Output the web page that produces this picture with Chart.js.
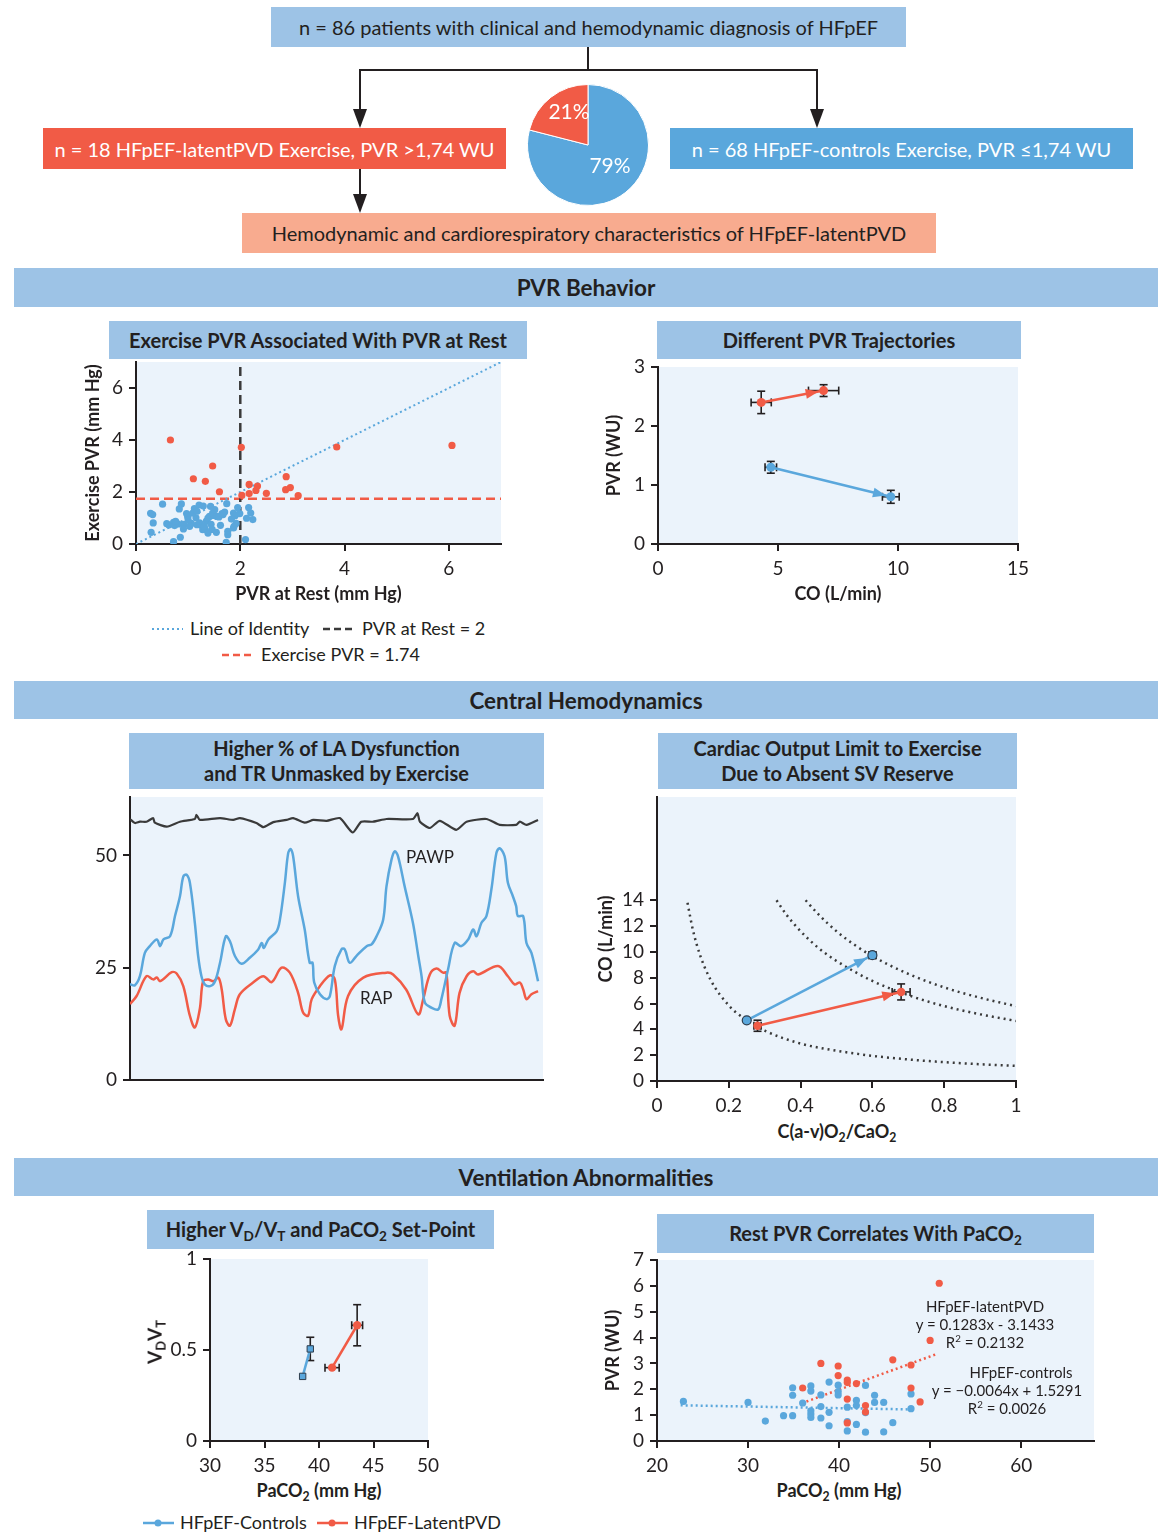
<!DOCTYPE html>
<html lang="en">
<head>
<meta charset="UTF-8">
<title>HFpEF-latentPVD overview</title>
<style>
  body { margin: 0; background: #fff; font-family: Lato, "Open Sans", sans-serif; color: #231f20; }
  #page { position: relative; width: 1158px; height: 1532px; overflow: hidden; }
  .box { position: absolute; display: flex; align-items: center; justify-content: center; text-align: center; box-sizing: border-box; }
  .top { font-size: 20px; }
  .band { background: #9dc3e6; font-size: 22.5px; font-weight: bold; left: 14px; width: 1144px; }
  .sub { background: #9dc3e6; font-size: 20px; font-weight: bold; line-height: 1.25; }
  .cv { position: absolute; }
  .t { position: absolute; white-space: nowrap; line-height: 1.2; transform: translate(0, -50%); }
  .tc { position: absolute; white-space: nowrap; line-height: 1.2; transform: translate(-50%, -50%); }
  .tr { position: absolute; white-space: nowrap; line-height: 1.2; transform: translate(-50%, -50%) rotate(-90deg); }
  .ax { font-size: 18px; font-weight: bold; }
  sub { font-size: 0.68em; vertical-align: baseline; position: relative; top: 0.3em; line-height: 0; }
  svg { position: absolute; left: 0; top: 0; }
</style>
</head>
<body>
<div id="page">

  <!-- flow boxes -->
  <div class="box top" style="left:271px;top:7px;width:635px;height:40px;background:#9dc3e6;"><span>n = 86 patients with clinical and hemodynamic diagnosis of HFpEF</span></div>
  <div class="box top" style="left:43px;top:128px;width:463px;height:41px;background:#f15b46;color:#fff;"><span>n = 18 HFpEF-latentPVD Exercise, PVR &gt;1,74 WU</span></div>
  <div class="box top" style="left:670px;top:128px;width:463px;height:41px;background:#5aa7dc;color:#fff;"><span>n = 68 HFpEF-controls Exercise, PVR ≤1,74 WU</span></div>
  <div class="box top" style="left:242px;top:213px;width:694px;height:40px;background:#f8ab8f;"><span>Hemodynamic and cardiorespiratory characteristics of HFpEF-latentPVD</span></div>

  <svg width="1158" height="1532">
    <g stroke="#231f20" stroke-width="2" fill="none">
      <line x1="588" y1="47" x2="588" y2="70"/>
      <line x1="359" y1="70" x2="818" y2="70"/>
      <line x1="360" y1="70" x2="360" y2="112"/>
      <line x1="817" y1="70" x2="817" y2="112"/>
      <line x1="360" y1="169" x2="360" y2="198"/>
    </g>
    <g fill="#231f20">
      <polygon points="353,109 367,109 360,128"/>
      <polygon points="810,109 824,109 817,128"/>
      <polygon points="353,194 367,194 360,213"/>
    </g>
    <!-- legend keys, exercise PVR panel -->
    <line x1="152" y1="629" x2="183" y2="629" stroke="#5aa7dc" stroke-width="2" stroke-dasharray="2,3"/>
    <line x1="323" y1="629" x2="356" y2="629" stroke="#3a3a3a" stroke-width="2.5" stroke-dasharray="7,4"/>
    <line x1="222" y1="655" x2="255" y2="655" stroke="#f15b46" stroke-width="2.5" stroke-dasharray="7,4"/>
    <!-- legend keys, VD/VT panel -->
    <line x1="143" y1="1523" x2="174" y2="1523" stroke="#5aa7dc" stroke-width="2.5"/>
    <circle cx="158" cy="1523" r="3.5" fill="#5aa7dc"/>
    <line x1="317" y1="1523" x2="348" y2="1523" stroke="#f15b46" stroke-width="2.5"/>
    <circle cx="332" cy="1523" r="3.5" fill="#f15b46"/>
  </svg>

  <div class="cv" style="left:527px;top:84px;width:122px;height:122px;"><canvas id="pie"></canvas></div>
  <div class="tc" style="left:569px;top:111px;color:#fff;font-size:21px;">21%</div>
  <div class="tc" style="left:610px;top:165px;color:#fff;font-size:21px;">79%</div>

  <!-- section bands -->
  <div class="box band" style="top:268px;height:39px;"><span>PVR Behavior</span></div>
  <div class="box band" style="top:681px;height:38px;"><span>Central Hemodynamics</span></div>
  <div class="box band" style="top:1158px;height:38px;"><span>Ventilation Abnormalities</span></div>

  <!-- panel titles -->
  <div class="box sub" style="left:109px;top:321px;width:418px;height:38px;"><span>Exercise PVR Associated With PVR at Rest</span></div>
  <div class="box sub" style="left:657px;top:321px;width:364px;height:38px;"><span>Different PVR Trajectories</span></div>
  <div class="box sub" style="left:129px;top:733px;width:415px;height:56px;"><span>Higher % of LA Dysfunction<br>and TR Unmasked by Exercise</span></div>
  <div class="box sub" style="left:658px;top:733px;width:359px;height:56px;"><span>Cardiac Output Limit to Exercise<br>Due to Absent SV Reserve</span></div>
  <div class="box sub" style="left:147px;top:1210px;width:347px;height:39px;"><span>Higher V<sub>D</sub>/V<sub>T</sub> and PaCO<sub>2</sub> Set-Point</span></div>
  <div class="box sub" style="left:657px;top:1214px;width:437px;height:39px;"><span>Rest PVR Correlates With PaCO<sub>2</sub></span></div>

  <!-- chart canvases -->
  <div class="cv" style="left:76px;top:342px;width:436px;height:264px;"><canvas id="restEx"></canvas></div>
  <div class="cv" style="left:600px;top:347px;width:440px;height:258px;"><canvas id="traj"></canvas></div>
  <div class="cv" style="left:80px;top:777px;width:470px;height:323px;"><canvas id="wave"></canvas></div>
  <div class="cv" style="left:590px;top:777px;width:440px;height:341px;"><canvas id="avo"></canvas></div>
  <div class="cv" style="left:140px;top:1239px;width:308px;height:239px;"><canvas id="vdvt"></canvas></div>
  <div class="cv" style="left:600px;top:1240px;width:510px;height:238px;"><canvas id="paco2"></canvas></div>

  <!-- legend texts -->
  <div class="t" style="left:190px;top:629px;font-size:18px;">Line of Identity</div>
  <div class="t" style="left:362px;top:629px;font-size:18px;">PVR at Rest = 2</div>
  <div class="t" style="left:261px;top:655px;font-size:18px;">Exercise PVR = 1.74</div>
  <div class="t" style="left:180px;top:1523px;font-size:18px;">HFpEF-Controls</div>
  <div class="t" style="left:354px;top:1523px;font-size:18px;">HFpEF-LatentPVD</div>

  <!-- in-plot labels -->
  <div class="t" style="left:406px;top:857px;font-size:17px;">PAWP</div>
  <div class="t" style="left:360px;top:998px;font-size:17px;">RAP</div>
  <div class="tc" style="left:985px;top:1306px;font-size:15px;">HFpEF-latentPVD</div>
  <div class="tc" style="left:985px;top:1324px;font-size:15px;">y = 0.1283x - 3.1433</div>
  <div class="tc" style="left:985px;top:1342px;font-size:15px;">R<sup style="font-size:0.65em;line-height:0">2</sup> = 0.2132</div>
  <div class="tc" style="left:1021px;top:1372px;font-size:15px;">HFpEF-controls</div>
  <div class="tc" style="left:1007px;top:1390px;font-size:15px;">y = −0.0064x + 1.5291</div>
  <div class="tc" style="left:1007px;top:1408px;font-size:15px;">R<sup style="font-size:0.65em;line-height:0">2</sup> = 0.0026</div>

  <!-- axis titles with subscripts -->
  <div class="tc ax" style="left:837px;top:1132px;">C(a-v)O<sub>2</sub>/CaO<sub>2</sub></div>
  <div class="tr ax" style="left:155px;top:1342px;font-size:19px;">V<sub>D</sub>V<sub>T</sub></div>
  <div class="tc ax" style="left:319px;top:1491px;">PaCO<sub>2</sub> (mm Hg)</div>
  <div class="tc ax" style="left:839px;top:1491px;">PaCO<sub>2</sub> (mm Hg)</div>
</div>

<script src="https://cdn.jsdelivr.net/npm/chart.js"></script>
<script>
  // ---- data ----
  const pieGroups = ['HFpEF-controls', 'HFpEF-latentPVD'];
  const pieShares = [79, 21];

  // exercise PVR vs rest PVR
  const latentRestPVR = [0.66, 2.02, 3.85, 6.06, 1.47, 1.10, 1.33, 1.60, 2.03, 2.17, 2.17, 2.33, 2.30, 2.50, 2.88, 2.87, 2.96, 3.11];
  const latentExPVR   = [4.00, 3.72, 3.73, 3.79, 3.00, 2.51, 2.41, 2.01, 1.87, 2.29, 1.94, 2.23, 2.06, 1.95, 2.59, 2.09, 2.17, 1.86];
  const controlsRestPVR = [0.51, 0.28, 0.32, 0.33, 0.29, 0.59, 0.63, 0.72, 0.72, 0.81, 0.83, 0.87, 0.85, 0.92, 0.91, 0.97, 0.99,
    1.06, 1.12, 1.15, 1.17, 1.21, 1.26, 1.28, 1.29, 1.33, 1.35, 1.38, 1.41, 1.43, 1.44, 1.46, 1.47, 1.49, 1.55, 1.54, 1.65,
    1.70, 1.73, 1.74, 1.76, 1.76, 1.87, 1.87, 1.90, 1.92, 1.95, 1.99, 2.10, 2.12, 2.16, 2.20, 2.24, 0.74, 1.09, 1.22, 1.31,
    1.59, 1.67, 1.83, 1.38, 1.03, 0.76, 1.17, 1.88, 1.51, 1.62, 1.00];
  const controlsExPVR = [1.53, 1.18, 1.13, 0.81, 0.45, 0.78, 0.73, 0.83, 0.09, 0.77, 1.35, 1.54, 0.26, 0.76, 0.58, 1.17, 1.05,
    0.79, 1.36, 1.01, 0.74, 1.50, 0.71, 0.55, 1.46, 0.55, 0.88, 1.00, 1.06, 1.45, 0.76, 0.56, 1.19, 1.10, 1.06, 0.45, 1.17,
    1.23, 0.06, 1.55, 0.49, 0.36, 0.62, 1.19, 1.09, 0.79, 1.40, 1.17, 0.17, 0.99, 1.40, 1.19, 0.94, 0.71, 1.19, 0.81, 0.68,
    1.04, 1.13, 0.96, 0.42, 0.68, 0.87, 1.26, 0.68, 1.32, 0.72, 0.92];
  const identityX = [0, 7], identityY = [0, 7];
  const restCutX = [2, 2], restCutY = [0, 7];
  const exCutX = [0, 7], exCutY = [1.74, 1.74];

  // PVR trajectories (rest -> exercise)
  const trajLatentCO = [4.3, 6.9], trajLatentPVR = [2.4, 2.6];
  const trajLatentCOerr = [0.42, 0.63], trajLatentPVRerr = [0.19, 0.10];
  const trajControlCO = [4.7, 9.7], trajControlPVR = [1.3, 0.8];
  const trajControlCOerr = [0.24, 0.35], trajControlPVRerr = [0.10, 0.11];

  // pressure tracings (time in % of the strip, mm Hg)
  const topT = [0, 1.2, 2.4, 4.0, 5.6, 6.0, 8.9, 12.1, 15.7, 16.1, 16.9, 21.8, 25.0, 26.6, 30.6, 32.3, 34.7, 37.9, 39.5, 42.3,
    44.4, 47.6, 50.8, 53.9, 56.0, 58.9, 62.1, 68.5, 69.6, 70.2, 72.6, 75.0, 79.0, 81.5, 86.3, 89.5, 93.5, 94.4, 96.0, 98.8];
  const topLevel = [58.1, 57.2, 57.5, 57.5, 58.3, 57.3, 56.4, 57.5, 58.1, 59.0, 57.9, 58.3, 57.9, 58.3, 57.2, 56.3, 57.4, 57.9,
    58.3, 57.3, 57.9, 57.7, 58.3, 55.1, 57.5, 57.5, 58.1, 58.1, 59.4, 57.5, 56.1, 57.7, 55.7, 57.5, 58.1, 56.8, 56.8, 57.5, 56.8, 57.9];
  const pawpT = [0, 1.2, 2.4, 3.6, 4.8, 6.5, 7.3, 8.1, 9.7, 10.9, 12.1, 12.9, 13.7, 14.5, 15.7, 16.5, 17.3, 18.1, 19.4, 20.6,
    21.8, 23.2, 24.2, 25.4, 27.0, 29.0, 31.0, 31.9, 32.4, 33.5, 35.5, 36.3, 37.5, 38.3, 38.9, 39.5, 40.7, 42.3, 43.5, 44.2,
    44.6, 46.0, 47.6, 48.4, 49.6, 51.2, 52.0, 53.2, 54.8, 57.3, 58.5, 59.7, 61.3, 62.1, 63.3, 64.1, 64.9, 66.5, 68.5, 69.8,
    70.6, 71.4, 73.0, 74.6, 75.4, 77.0, 78.6, 80.2, 81.9, 83.1, 83.9, 85.1, 86.3, 87.5, 88.7, 89.5, 90.7, 91.5, 92.7, 93.5,
    93.9, 95.2, 96.0, 97.2, 98.8];
  const pawpMmHg = [21.3, 21.1, 23.1, 28.3, 29.8, 31.3, 29.8, 31.3, 32.0, 36.5, 40.9, 45.3, 45.7, 43.9, 35.0, 27.6, 23.1, 21.3,
    20.9, 22.0, 26.1, 32.0, 30.9, 27.6, 25.9, 27.2, 29.0, 30.5, 29.4, 31.3, 33.1, 35.7, 43.9, 50.5, 51.4, 49.8, 40.9, 33.5,
    26.1, 26.1, 21.7, 19.1, 18.0, 18.7, 25.4, 29.1, 29.1, 26.1, 27.6, 29.8, 30.2, 32.0, 35.7, 43.1, 49.0, 50.9, 49.8, 43.1,
    35.0, 27.6, 23.1, 17.2, 16.1, 15.7, 18.0, 24.6, 30.5, 29.8, 31.3, 33.5, 32.0, 35.0, 36.5, 42.4, 50.5, 51.6, 49.8, 43.9,
    40.9, 38.7, 36.5, 36.5, 30.5, 28.3, 22.0];
  const rapT = [0, 1.6, 4.0, 5.6, 6.5, 7.3, 10.1, 11.3, 12.9, 14.5, 15.7, 16.9, 17.7, 18.9, 20.2, 21.4, 22.2, 23.2, 24.2, 25.4,
    26.6, 29.8, 32.3, 34.3, 36.7, 38.7, 40.7, 41.9, 43.1, 44.0, 46.0, 48.4, 49.6, 50.4, 51.2, 52.8, 56.5, 62.1, 63.7, 66.9,
    69.8, 71.0, 72.6, 74.2, 75.8, 76.6, 77.4, 78.6, 79.8, 81.5, 83.1, 84.3, 89.1, 91.5, 93.1, 94.4, 95.2, 96.0, 97.2, 98.8];
  const rapMmHg = [16.9, 18.7, 23.1, 22.4, 22.8, 22.0, 24.0, 23.7, 20.9, 14.3, 11.7, 15.8, 22.0, 22.4, 22.0, 22.8, 20.2, 13.5,
    12.1, 15.8, 19.1, 21.7, 23.1, 21.8, 25.0, 23.9, 19.4, 15.0, 14.3, 18.0, 20.9, 23.3, 22.4, 14.3, 11.3, 18.7, 22.8, 23.9,
    23.5, 20.1, 14.6, 18.0, 23.5, 24.8, 23.9, 23.9, 14.3, 12.1, 19.4, 23.1, 24.2, 23.5, 25.4, 23.1, 21.3, 21.7, 20.2, 18.0, 19.1, 19.8];

  // cardiac output vs C(a-v)O2/CaO2
  const avoControlX = [0.25, 0.60], avoControlCO = [4.7, 9.75], avoControlXerr = [0.008, 0.01], avoControlCOerr = [0.12, 0.25];
  const avoLatentX = [0.28, 0.68], avoLatentCO = [4.28, 6.9], avoLatentXerr = [0.01, 0.025], avoLatentCOerr = [0.43, 0.62];
  const iso1X = [0.085, 0.1, 0.12, 0.15, 0.2, 0.25, 0.3, 0.4, 0.5, 0.6, 0.7, 0.8, 0.9, 1.0];
  const iso1CO = [13.8, 11.7, 9.75, 7.8, 5.85, 4.7, 3.9, 2.9, 2.35, 1.95, 1.67, 1.46, 1.3, 1.17];
  const iso2X = [0.333, 0.36, 0.4, 0.45, 0.5, 0.6, 0.7, 0.8, 0.9, 1.0];
  const iso2CO = [14.0, 12.9, 11.6, 10.3, 9.3, 7.75, 6.65, 5.8, 5.17, 4.65];
  const iso3X = [0.414, 0.45, 0.5, 0.55, 0.6, 0.7, 0.8, 0.9, 1.0];
  const iso3CO = [14.0, 12.9, 11.6, 10.55, 9.67, 8.3, 7.25, 6.45, 5.8];

  // VD/VT vs PaCO2
  const vdControlPaCO2 = [38.5, 39.2], vdControlRatio = [0.355, 0.506], vdControlXerr = [0.25, 0.25], vdControlYerr = [0.01, 0.064];
  const vdLatentPaCO2 = [41.2, 43.5], vdLatentRatio = [0.403, 0.636], vdLatentXerr = [0.65, 0.5], vdLatentYerr = [0.015, 0.113];

  // rest PVR vs PaCO2
  const latentPaCO2 = [51.0, 50.0, 45.9, 47.9, 47.9, 48.9, 36.0, 38.0, 39.9, 39.9, 40.9, 40.9, 41.9, 40.9, 42.9, 42.9, 40.9];
  const latentPVR = [6.10, 3.89, 3.14, 2.94, 2.05, 1.51, 2.05, 3.00, 2.90, 2.53, 2.36, 2.26, 2.22, 1.62, 1.37, 1.12, 0.70];
  const controlsPaCO2 = [22.9, 30.0, 31.9, 33.9, 34.9, 34.9, 34.9, 36.0, 36.9, 36.9, 36.9, 36.9, 36.9, 38.0, 38.0, 38.0, 38.9,
    38.9, 38.9, 39.9, 39.9, 39.9, 40.9, 40.9, 40.9, 41.9, 41.9, 41.9, 42.9, 42.9, 42.9, 43.9, 43.9, 44.9, 44.9, 45.9, 47.9, 47.9];
  const controlsPVR = [1.53, 1.49, 0.77, 0.98, 0.98, 2.06, 1.77, 1.47, 2.13, 1.93, 1.17, 1.04, 0.91, 1.78, 1.33, 0.89, 2.28,
    1.11, 0.59, 2.16, 1.91, 1.78, 1.31, 0.75, 0.39, 1.57, 1.37, 0.64, 2.15, 1.10, 0.34, 1.77, 1.49, 1.49, 0.35, 0.71, 1.82, 1.25];
  const latentFitX = [35.9, 50.7], latentFitY = [1.46, 3.36];
  const controlsFitX = [22.6, 47.9], controlsFitY = [1.38, 1.22];

  // ---- styling ----
  const INK = '#231f20';
  const RED = '#f15b46';
  const BLUE = '#5aa7dc';
  const PLOT_BG = '#ebf3fb';

  Chart.defaults.font.family = 'Lato, "Open Sans", sans-serif';
  Chart.defaults.color = INK;
  Chart.defaults.animation = false;
  Chart.defaults.plugins.legend.display = false;
  Chart.defaults.plugins.tooltip.enabled = false;

  const xy = (xs, ys) => xs.map((v, i) => ({ x: v, y: ys[i] }));

  // light blue plot area
  const plotBg = {
    id: 'plotBg',
    beforeDraw(chart, args, opts) {
      if (!opts.color) return;
      const { ctx, chartArea: a } = chart;
      ctx.save();
      ctx.fillStyle = opts.color;
      ctx.fillRect(a.left, a.top, a.right - a.left, a.bottom - a.top);
      ctx.restore();
    }
  };

  // mean +/- error bars
  const errBars = {
    id: 'errBars',
    beforeDatasetsDraw(chart, args, opts) {
      if (!opts.sets) return;
      const { ctx, scales: { x, y } } = chart;
      ctx.save();
      ctx.strokeStyle = INK;
      ctx.lineWidth = 1.6;
      const seg = (a, b, c, d) => { ctx.beginPath(); ctx.moveTo(a, b); ctx.lineTo(c, d); ctx.stroke(); };
      opts.sets.forEach(s => {
        s.x.forEach((xv, i) => {
          const px = x.getPixelForValue(xv), py = y.getPixelForValue(s.y[i]);
          const x0 = x.getPixelForValue(xv - s.xe[i]), x1 = x.getPixelForValue(xv + s.xe[i]);
          const y0 = y.getPixelForValue(s.y[i] - s.ye[i]), y1 = y.getPixelForValue(s.y[i] + s.ye[i]);
          if (x1 - x0 > 6) { seg(x0, py, x1, py); seg(x0, py - 4, x0, py + 4); seg(x1, py - 4, x1, py + 4); }
          if (y0 - y1 > 6) { seg(px, y0, px, y1); seg(px - 4, y0, px + 4, y0); seg(px - 4, y1, px + 4, y1); }
        });
      });
      ctx.restore();
    }
  };

  // arrow heads at the exercise end of each trajectory
  const arrowHeads = {
    id: 'arrowHeads',
    afterDatasetsDraw(chart, args, opts) {
      if (!opts.datasets) return;
      const ctx = chart.ctx;
      opts.datasets.forEach(i => {
        const pts = chart.getDatasetMeta(i).data;
        const a = pts[pts.length - 2], b = pts[pts.length - 1];
        const dx = b.x - a.x, dy = b.y - a.y, L = Math.hypot(dx, dy);
        const ux = dx / L, uy = dy / L;
        const tx = b.x - ux * opts.gap, ty = b.y - uy * opts.gap;
        const len = 13, hw = 5;
        ctx.save();
        ctx.fillStyle = chart.data.datasets[i].borderColor;
        ctx.beginPath();
        ctx.moveTo(tx, ty);
        ctx.lineTo(tx - ux * len - uy * hw, ty - uy * len + ux * hw);
        ctx.lineTo(tx - ux * len + uy * hw, ty - uy * len - ux * hw);
        ctx.closePath();
        ctx.fill();
        ctx.restore();
      });
    }
  };

  Chart.register(plotBg, errBars, arrowHeads);

  // axis with fixed size so plot areas line up with the layout
  function axis(o) {
    const a = {
      type: 'linear', min: o.min, max: o.max,
      afterFit: s => { if (o.w !== undefined) s.width = o.w; if (o.h !== undefined) s.height = o.h; },
      grid: { drawOnChartArea: false, drawTicks: !!o.ticks, tickLength: 7, color: INK, lineWidth: 2 },
      border: { display: true, color: INK, width: 2 },
      ticks: { display: !!o.ticks, color: INK, padding: 6, font: { size: 19 }, callback: v => String(v) },
      title: o.title
        ? { display: true, text: o.title, color: INK, padding: o.tp, font: { size: 18, weight: 'bold' } }
        : { display: false }
    };
    if (o.ticks) a.afterBuildTicks = s => { s.ticks = o.ticks.map(v => ({ value: v })); };
    return a;
  }

  function opts(pad, x, y, plugins) {
    return {
      responsive: true, maintainAspectRatio: false,
      layout: { padding: pad },
      scales: { x: axis(x), y: axis(y) },
      plugins: Object.assign({ plotBg: { color: PLOT_BG } }, plugins || {})
    };
  }

  // pie
  new Chart(document.getElementById('pie'), {
    type: 'pie',
    data: { labels: pieGroups, datasets: [{ data: pieShares, backgroundColor: [BLUE, RED], borderColor: '#fff', borderWidth: 1 }] },
    options: { responsive: true, maintainAspectRatio: false, layout: { padding: 0 } }
  });

  // exercise PVR vs rest PVR
  new Chart(document.getElementById('restEx'), {
    type: 'scatter',
    data: {
      datasets: [
        { data: xy(latentRestPVR, latentExPVR), backgroundColor: RED, borderWidth: 0, pointRadius: 3.6 },
        { data: xy(controlsRestPVR, controlsExPVR), backgroundColor: BLUE, borderWidth: 0, pointRadius: 3.6 },
        { data: xy(identityX, identityY), showLine: true, borderColor: BLUE, borderWidth: 2, borderDash: [2, 3], pointRadius: 0 },
        { data: xy(restCutX, restCutY), showLine: true, borderColor: '#3a3a3a', borderWidth: 2.5, borderDash: [9, 5], pointRadius: 0 },
        { data: xy(exCutX, exCutY), showLine: true, borderColor: RED, borderWidth: 2.5, borderDash: [9, 5], pointRadius: 0 }
      ]
    },
    options: opts({ top: 20, right: 11 },
      { min: 0, max: 7, ticks: [0, 2, 4, 6], h: 62, title: 'PVR at Rest (mm Hg)', tp: { top: 0, bottom: 1 } },
      { min: 0, max: 7, ticks: [0, 2, 4, 6], w: 60, title: 'Exercise PVR (mm Hg)', tp: { top: 6, bottom: 0 } })
  });

  // PVR trajectories
  new Chart(document.getElementById('traj'), {
    type: 'scatter',
    data: {
      datasets: [
        { data: xy(trajLatentCO, trajLatentPVR), showLine: true, borderColor: RED, backgroundColor: RED, borderWidth: 2.5, pointRadius: 4.5, pointBorderWidth: 0 },
        { data: xy(trajControlCO, trajControlPVR), showLine: true, borderColor: BLUE, backgroundColor: BLUE, borderWidth: 2.5, pointRadius: 4.5, pointBorderWidth: 0 }
      ]
    },
    options: opts({ top: 20, right: 22 },
      { min: 0, max: 15, ticks: [0, 5, 10, 15], h: 61, title: 'CO (L/min)', tp: { top: 0, bottom: 0 } },
      { min: 0, max: 3, ticks: [0, 1, 2, 3], w: 58, title: 'PVR (WU)', tp: { top: 3, bottom: 0 } },
      {
        errBars: { sets: [
          { x: trajLatentCO, y: trajLatentPVR, xe: trajLatentCOerr, ye: trajLatentPVRerr },
          { x: trajControlCO, y: trajControlPVR, xe: trajControlCOerr, ye: trajControlPVRerr }
        ] },
        arrowHeads: { datasets: [0, 1], gap: 5 }
      })
  });

  // pressure tracings
  new Chart(document.getElementById('wave'), {
    type: 'scatter',
    data: {
      datasets: [
        { data: xy(topT, topLevel), showLine: true, borderColor: '#3a3a3a', borderWidth: 2.2, pointRadius: 0, tension: 0.2 },
        { data: xy(pawpT, pawpMmHg), showLine: true, borderColor: BLUE, borderWidth: 2.5, pointRadius: 0, tension: 0.35 },
        { data: xy(rapT, rapMmHg), showLine: true, borderColor: RED, borderWidth: 2.5, pointRadius: 0, tension: 0.35 }
      ]
    },
    options: opts({ top: 20, right: 7 },
      { min: 0, max: 100, ticks: null, h: 20 },
      { min: 0, max: 63, ticks: [0, 25, 50], w: 50 })
  });

  // cardiac output vs extraction
  new Chart(document.getElementById('avo'), {
    type: 'scatter',
    data: {
      datasets: [
        { data: xy(avoControlX, avoControlCO), showLine: true, borderColor: BLUE, backgroundColor: BLUE, borderWidth: 2.5,
          pointRadius: 4.5, pointBorderColor: '#2e3d4d', pointBorderWidth: 1.2 },
        { data: xy(avoLatentX, avoLatentCO), showLine: true, borderColor: RED, backgroundColor: RED, borderWidth: 2.5,
          pointRadius: 4.2, pointBorderWidth: 0 },
        { data: xy(iso1X, iso1CO), showLine: true, borderColor: '#3a3a3a', borderWidth: 2.5, borderDash: [2, 4], pointRadius: 0, cubicInterpolationMode: 'monotone' },
        { data: xy(iso2X, iso2CO), showLine: true, borderColor: '#3a3a3a', borderWidth: 2.5, borderDash: [2, 4], pointRadius: 0, cubicInterpolationMode: 'monotone' },
        { data: xy(iso3X, iso3CO), showLine: true, borderColor: '#3a3a3a', borderWidth: 2.5, borderDash: [2, 4], pointRadius: 0, cubicInterpolationMode: 'monotone' }
      ]
    },
    options: opts({ top: 20, right: 14 },
      { min: 0, max: 1, ticks: [0, 0.2, 0.4, 0.6, 0.8, 1], h: 37 },
      { min: 0, max: 22, ticks: [0, 2, 4, 6, 8, 10, 12, 14], w: 67, title: 'CO (L/min)', tp: { top: 5, bottom: 0 } },
      {
        errBars: { sets: [
          { x: avoControlX, y: avoControlCO, xe: avoControlXerr, ye: avoControlCOerr },
          { x: avoLatentX, y: avoLatentCO, xe: avoLatentXerr, ye: avoLatentCOerr }
        ] },
        arrowHeads: { datasets: [0, 1], gap: 6 }
      })
  });

  // VD/VT vs PaCO2
  new Chart(document.getElementById('vdvt'), {
    type: 'scatter',
    data: {
      datasets: [
        { data: xy(vdControlPaCO2, vdControlRatio), showLine: true, borderColor: BLUE, backgroundColor: BLUE, borderWidth: 2.5,
          pointStyle: 'rect', pointRadius: 4.5, pointBorderColor: '#2e3d4d', pointBorderWidth: 1 },
        { data: xy(vdLatentPaCO2, vdLatentRatio), showLine: true, borderColor: RED, backgroundColor: RED, borderWidth: 2.5,
          pointRadius: 4.2, pointBorderWidth: 0 }
      ]
    },
    options: opts({ top: 20, right: 20 },
      { min: 30, max: 50, ticks: [30, 35, 40, 45, 50], h: 37 },
      { min: 0, max: 1, ticks: [0, 0.5, 1], w: 70 },
      {
        errBars: { sets: [
          { x: vdControlPaCO2, y: vdControlRatio, xe: vdControlXerr, ye: vdControlYerr },
          { x: vdLatentPaCO2, y: vdLatentRatio, xe: vdLatentXerr, ye: vdLatentYerr }
        ] }
      })
  });

  // rest PVR vs PaCO2
  new Chart(document.getElementById('paco2'), {
    type: 'scatter',
    data: {
      datasets: [
        { data: xy(latentPaCO2, latentPVR), backgroundColor: RED, borderWidth: 0, pointRadius: 3.6 },
        { data: xy(controlsPaCO2, controlsPVR), backgroundColor: BLUE, borderWidth: 0, pointRadius: 3.6 },
        { data: xy(latentFitX, latentFitY), showLine: true, borderColor: RED, borderWidth: 2.5, borderDash: [2, 3], pointRadius: 0 },
        { data: xy(controlsFitX, controlsFitY), showLine: true, borderColor: BLUE, borderWidth: 2.5, borderDash: [2, 3], pointRadius: 0 }
      ]
    },
    options: opts({ top: 20, right: 16 },
      { min: 20, max: 68, ticks: [20, 30, 40, 50, 60], h: 37 },
      { min: 0, max: 7, ticks: [0, 1, 2, 3, 4, 5, 6, 7], w: 57, title: 'PVR (WU)', tp: { top: 2, bottom: 0 } })
  });
</script>
</body>
</html>
